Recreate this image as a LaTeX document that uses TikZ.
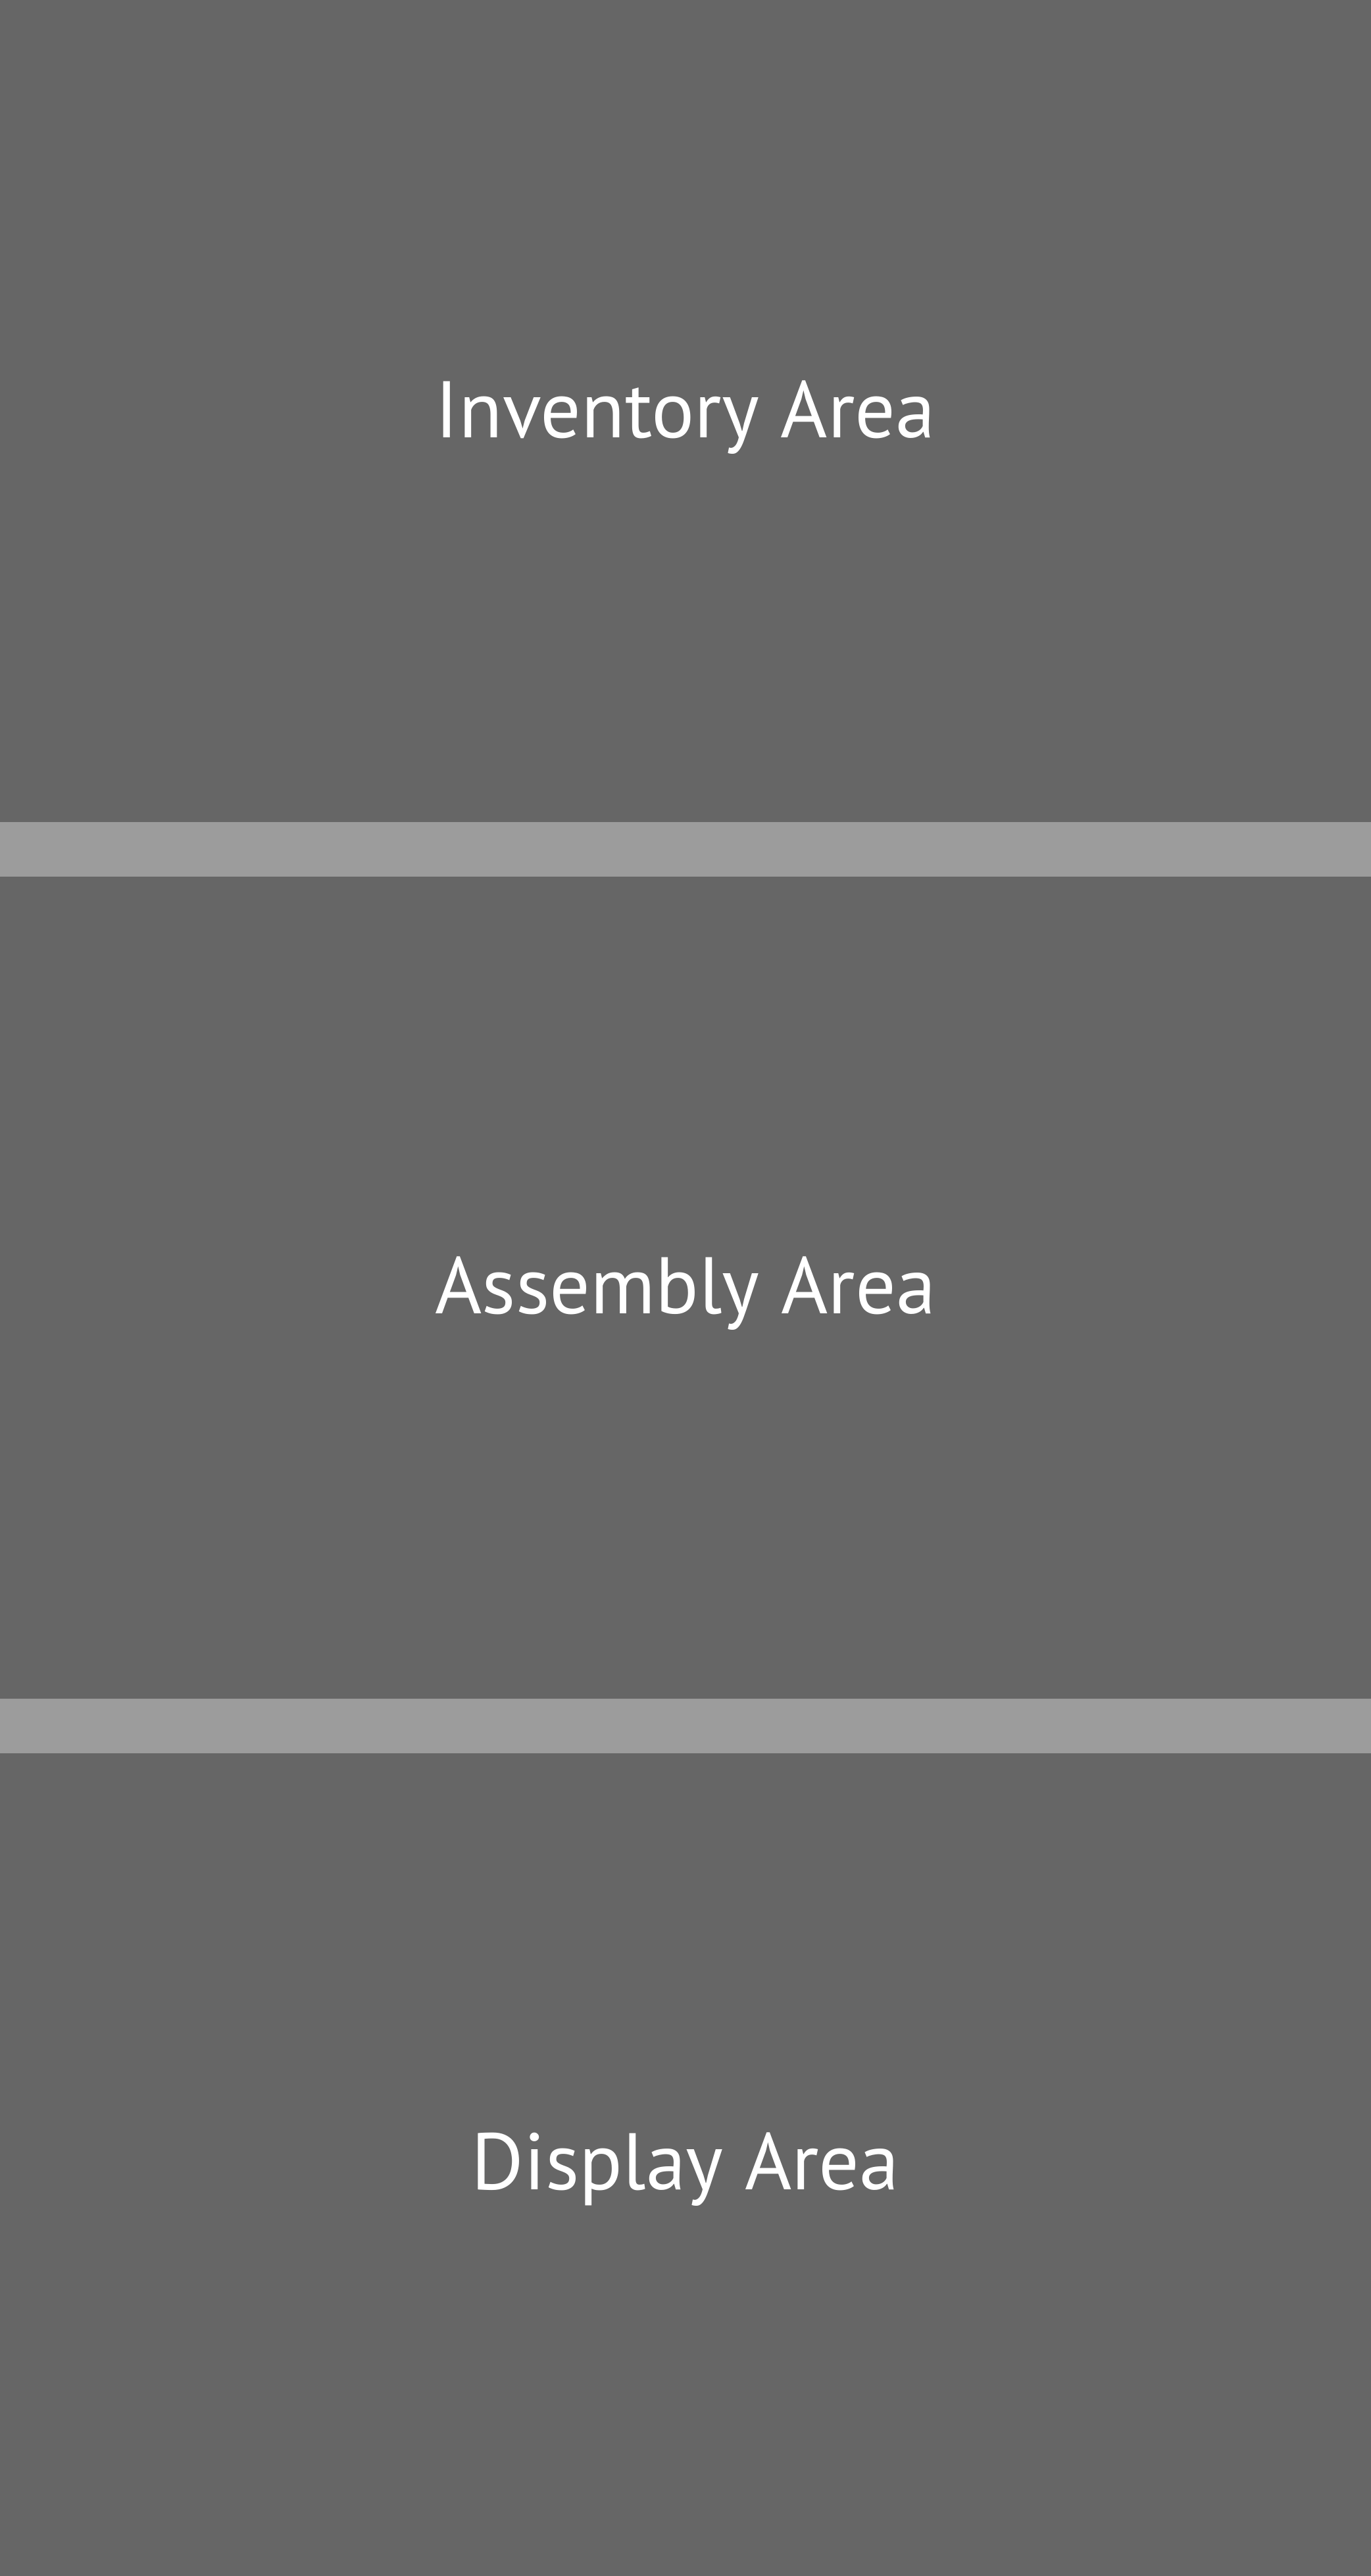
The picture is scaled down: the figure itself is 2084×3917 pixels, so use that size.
\documentclass[tikz,border=0pt]{standalone}
\usepackage{fontspec}
\setmainfont{PT Sans}
\definecolor{areagray}{HTML}{666666}
\definecolor{bandgray}{HTML}{9C9C9C}
\begin{document}
\begin{tikzpicture}[x=1pt,y=-1pt,
  area/.style={fill=areagray,draw=none},
  band/.style={fill=bandgray,draw=none},
  label/.style={text=white,anchor=base,inner sep=0pt,font=\fontsize{122}{140}\selectfont}]
\useasboundingbox (0,0) rectangle (2084,3917);
\fill[area] (0,0) rectangle (2084,3917);
\fill[band] (0,1250) rectangle (2084,1333);
\fill[band] (0,2583) rectangle (2084,2666);
\node[label] (inv) at (1042,665) {Inventory Area};
\node[label] (asm) at (1042,1997) {Assembly Area};
\node[label] (dsp) at (1042,3329) {Display Area};
\end{tikzpicture}
\end{document}
